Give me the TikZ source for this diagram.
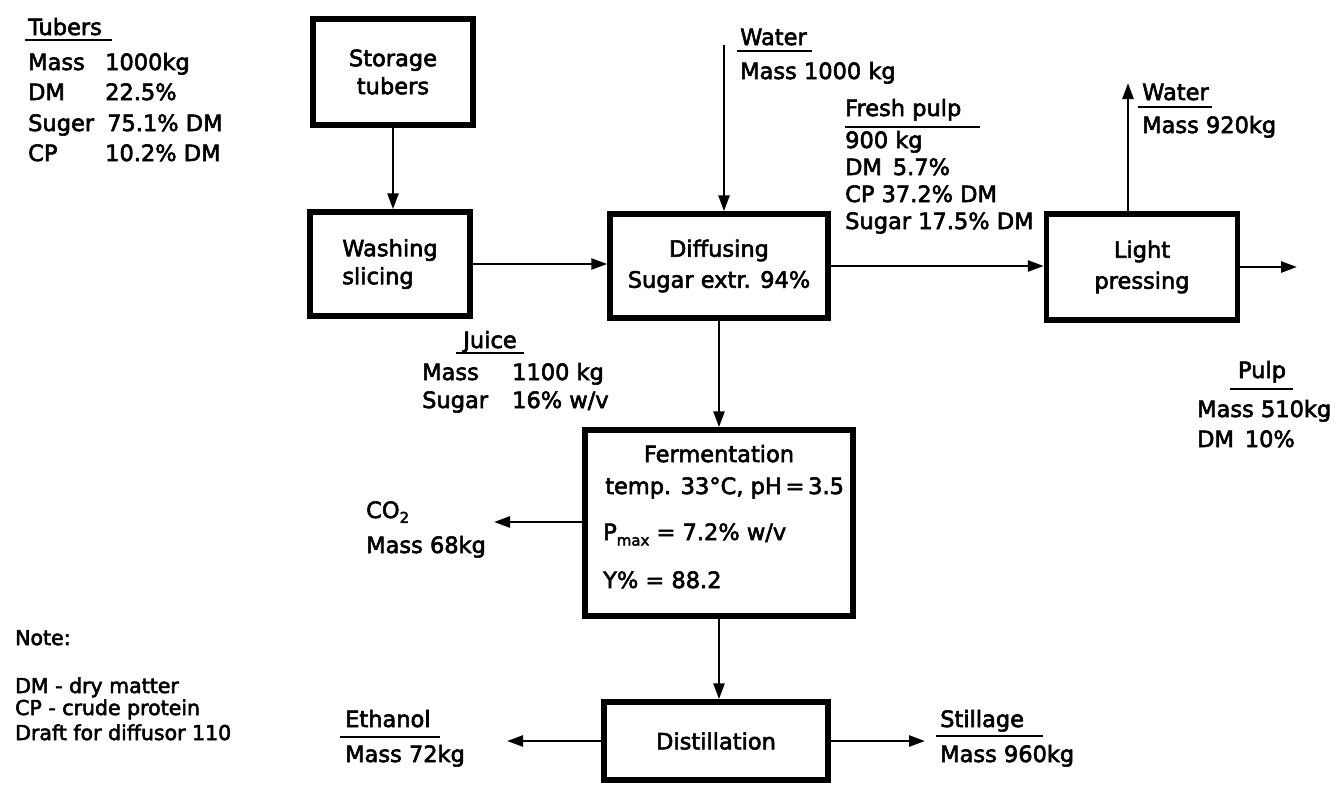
\documentclass[tikz,border=0pt]{standalone}
\usepackage{fontspec}
\setmainfont{DejaVu Sans}[FakeBold=2.6]
\usetikzlibrary{arrows.meta}
\newcommand{\bigf}{\fontsize{22.5}{28}\selectfont}
\newcommand{\notef}{\fontsize{20.5}{24}\selectfont}
\newcommand{\subf}{\fontsize{15}{15}\selectfont}
\begin{document}
\begin{tikzpicture}[x=1pt,y=-1pt,
  procbox/.style={draw, line width=5.5pt, inner sep=0pt, align=center, font=\bigf},
  flow/.style={line width=2.6pt, -{Triangle[length=16pt,width=11pt]}},
  lbl/.style={anchor=base west, inner sep=0pt, font=\bigf},
  clbl/.style={anchor=base, inner sep=0pt, font=\bigf},
  nlbl/.style={anchor=base west, inner sep=0pt, font=\notef},
  uline/.style={line width=2.4pt}]
\fill[white] (0,0) rectangle (1340,785);

% ---- process boxes ----
\node[procbox, minimum width=160pt, minimum height=106pt] (store) at (393,72) {Storage\\tubers};
\node[procbox, align=left, minimum width=160pt, minimum height=104pt] (wash) at (390,264) {Washing\\slicing};
\node[procbox, minimum width=218pt, minimum height=104pt] (diff) at (719,266) {Diffusing\\[3pt]Sugar extr. 94\%};
\node[procbox, minimum width=191pt, minimum height=106pt] (press) at (1142,267) {Light\\[3pt]pressing};
\node[procbox, minimum width=268pt, minimum height=186pt] (ferm) at (719,523) {};
\node[procbox, minimum width=224pt, minimum height=78pt] (dist) at (716,741) {Distillation};

% fermentation text
\node[clbl] (fermT) at (719,462) {Fermentation};
\node[lbl] (fermA) at (605,494) {temp. 33°C, pH\,=\,3.5};
\node[lbl] (fermB) at (603,540) {P\raisebox{-0.45ex}{\subf max} = 7.2\% w/v};
\node[lbl] (fermC) at (603,588) {Y\% = 88.2};

% ---- free ends ----
\coordinate (win) at (724,45);
\coordinate (wtop) at (1128,83);
\coordinate (pulptip) at (1297,267);
\coordinate (co2tip) at (494,522);
\coordinate (ethtip) at (507,743);
\coordinate (stiltip) at (925,741);

% ---- connectors ----
\draw[flow] (store.south) -- (store.south |- wash.north);
\draw[flow] (wash.east) -- (wash.east -| diff.west);
\draw[flow] (win) -- (win |- diff.north);
\draw[flow] (diff.east) -- (diff.east -| press.west);
\draw[flow] (press.east) -- (press.east -| pulptip);
\draw[flow] (wtop |- press.north) -- (wtop);
\draw[flow] (diff.south) -- (diff.south |- ferm.north);
\draw[flow] (ferm.west |- co2tip) -- (co2tip);
\draw[flow] (ferm.south) -- (ferm.south |- dist.north);
\draw[flow] (dist.west) -- (dist.west -| ethtip);
\draw[flow] (dist.east) -- (dist.east -| stiltip);

% ---- Tubers ----
\node[lbl] (tubT) at (28,35) {Tubers};
\draw[uline] (25,40) -- (112,40);
\node[lbl] (tub1a) at (28,70) {Mass};
\node[lbl] (tub1b) at (105,70) {1000kg};
\node[lbl] (tub2a) at (28,100) {DM};
\node[lbl] (tub2b) at (105,100) {22.5\%};
\node[lbl] (tub3a) at (28,131) {Suger};
\node[lbl] (tub3b) at (107,131) {75.1\% DM};
\node[lbl] (tub4a) at (28,161) {CP};
\node[lbl] (tub4b) at (105,161) {10.2\% DM};

% ---- Water in ----
\node[lbl] (winT) at (740,45) {Water};
\draw[uline] (737,51) -- (812,51);
\node[lbl] (winM) at (740,79) {Mass 1000 kg};

% ---- Fresh pulp ----
\node[lbl] (fpT) at (845,116) {Fresh pulp};
\draw[uline] (845,127) -- (980,127);
\node[lbl] (fp1) at (845,148) {900 kg};
\node[lbl] (fp2) at (845,175) {DM \,5.7\%};
\node[lbl] (fp3) at (845,202) {CP 37.2\% DM};
\node[lbl] (fp4) at (845,229) {Sugar 17.5\% DM};

% ---- Water out ----
\node[lbl] (woT) at (1142,100) {Water};
\draw[uline] (1138,107) -- (1212,107);
\node[lbl] (woM) at (1142,133) {Mass 920kg};

% ---- Juice ----
\node[clbl] (juT) at (490,348) {Juice};
\draw[uline] (456,353) -- (524,353);
\node[lbl] (ju1a) at (422,380) {Mass};
\node[lbl] (ju1b) at (512,380) {1100 kg};
\node[lbl] (ju2a) at (422,408) {Sugar};
\node[lbl] (ju2b) at (512,408) {16\% w/v};

% ---- Pulp ----
\node[clbl] (puT) at (1262,378) {Pulp};
\draw[uline] (1230,389) -- (1293,389);
\node[lbl] (pu1) at (1197,417) {Mass 510kg};
\node[lbl] (pu2) at (1197,447) {DM \,10\%};

% ---- CO2 ----
\node[lbl] (co2T) at (366,518) {CO\raisebox{-0.4ex}{\subf 2}};
\node[lbl] (co2M) at (366,553) {Mass 68kg};

% ---- Ethanol ----
\node[lbl] (ethT) at (345,727) {Ethanol};
\draw[uline] (340,737) -- (440,737);
\node[lbl] (ethM) at (345,762) {Mass 72kg};

% ---- Stillage ----
\node[lbl] (stT) at (940,727) {Stillage};
\draw[uline] (936,736) -- (1043,736);
\node[lbl] (stM) at (940,762) {Mass 960kg};

% ---- Note ----
\node[nlbl] (noteT) at (15,645) {Note:};
\node[nlbl] (note1) at (15,693) {DM - dry matter};
\node[nlbl] (note2) at (15,715) {CP - crude protein};
\node[nlbl] (note3) at (15,740) {Draft for diffusor 110};
\end{tikzpicture}
\end{document}
